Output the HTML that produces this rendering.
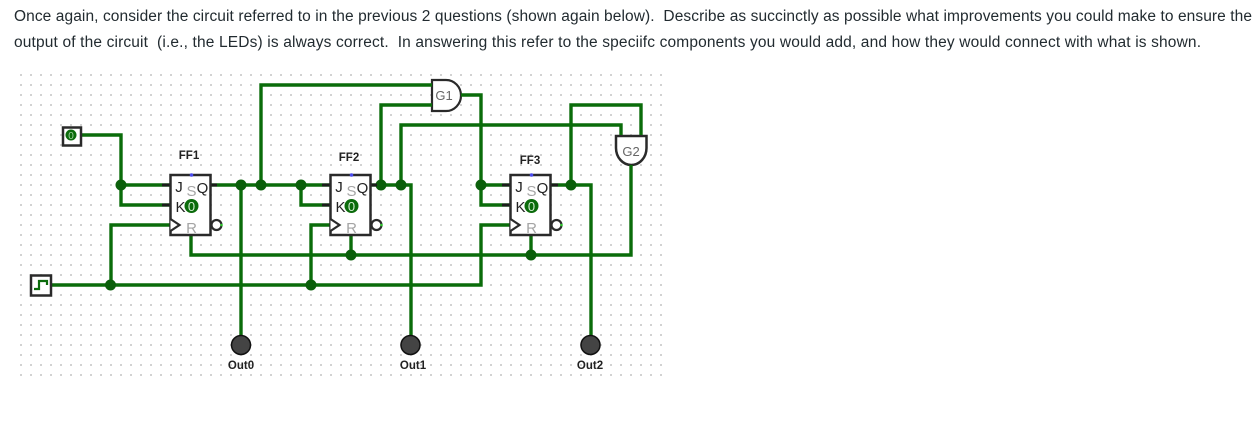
<!DOCTYPE html>
<html><head><meta charset="utf-8"><style>
html,body{margin:0;padding:0;background:#fff;width:1253px;height:421px;overflow:hidden}
svg{display:block}
.q{font:15.500px "Liberation Sans",sans-serif;fill:#222b30;white-space:pre}
.l{font:bold 11.500px "Liberation Sans",sans-serif;fill:#222;text-anchor:middle}
.g{font:13px "Liberation Sans",sans-serif;fill:#666;text-anchor:middle}
.p{font:15px "Liberation Sans",sans-serif;fill:#222;text-anchor:middle}
.r{font:15px "Liberation Sans",sans-serif;fill:#a5a5a5;text-anchor:middle}
.w{fill:none;stroke:#0a6c0a;stroke-width:3.400;stroke-linejoin:miter}
.b{fill:#fff;stroke:#2a2a2a;stroke-width:2.500}
</style></head><body>
<svg width="1253" height="421" viewBox="0 0 1253 421" xmlns="http://www.w3.org/2000/svg">
<defs>
<pattern id="dots" x="20" y="74" width="10" height="10" patternUnits="userSpaceOnUse"><rect x="0" y="0" width="2" height="2" fill="#d2d2d2"/></pattern>
<g id="ff">
<rect class="b" x="0" y="0" width="40" height="60"/>
<text class="r" x="21" y="21">S</text><text class="r" x="21" y="58">R</text>
<path d="M0 44L9 50L0 56" fill="#fff" stroke="#2a2a2a" stroke-width="2.200"/>
<circle cx="46" cy="50" r="5" fill="#fff" stroke="#2a2a2a" stroke-width="2.200"/>
<circle cx="51" cy="50" r="1.300" fill="#2cc52c"/>
<circle cx="21" cy="0" r="1.800" fill="#4a4aee"/>
<circle cx="21" cy="31" r="7" fill="#0b6b0b"/>
<text x="21" y="36" style="font:13px 'Liberation Sans',sans-serif;fill:#cfeccf;text-anchor:middle">0</text>
<text class="p" x="8.500" y="17">J</text><text class="p" x="10" y="37">K</text>
<text class="p" x="32" y="18">Q</text>
</g>
</defs>
<text class="q" x="14" y="21" textLength="1238" lengthAdjust="spacing">Once again, consider the circuit referred to in the previous 2 questions (shown again below).  Describe as succinctly as possible what improvements you could make to ensure the</text>
<text class="q" x="14" y="47" textLength="1187" lengthAdjust="spacing">output of the circuit  (i.e., the LEDs) is always correct.  In answering this refer to the speciifc components you would add, and how they would connect with what is shown.</text>
<rect x="20" y="70" width="644" height="308" fill="url(#dots)"/>

<!-- gates under wires -->
<path d="M432 80H446A15 15.500 0 0 1 446 111H432Z" fill="#fff" stroke="#2a2a2a" stroke-width="2.200"/>
<text class="g" x="444" y="100">G1</text>
<path d="M616 136H646.500V148A15.250 17 0 0 1 616 148Z" fill="#fff" stroke="#2a2a2a" stroke-width="2.500"/>
<text class="g" x="631" y="156">G2</text>

<!-- wires -->
<g class="w">
<path d="M81 135H121V205H171M121 185H171"/>
<path d="M51 285H481V225H511M111 285V225H171M311 285V225H331"/>
<path d="M211 185H331M241 185V345M301 185V205H331M261 185V85H432"/>
<path d="M371 185H411V345M381 185V105H432M401 185V125H621V135"/>
<path d="M461 95H481V205H511M481 185H511"/>
<path d="M551 185H591V345M571 185V105H641V135"/>
<path d="M191 235V255H631V165M351 235V255M531 235V255"/>
</g>
<g fill="#0b5f0b">
<circle cx="121" cy="185" r="5.500"/><circle cx="241" cy="185" r="5.500"/><circle cx="261" cy="185" r="5.500"/><circle cx="301" cy="185" r="5.500"/>
<circle cx="381" cy="185" r="5.500"/><circle cx="401" cy="185" r="5.500"/><circle cx="481" cy="185" r="5.500"/><circle cx="571" cy="185" r="5.500"/>
<circle cx="110.500" cy="285" r="5.500"/><circle cx="311" cy="285" r="5.500"/><circle cx="351" cy="255" r="5.500"/><circle cx="531" cy="255" r="5.500"/>
</g>
<!-- pin stubs -->
<path d="M162 185h9M162 205h9M322 185h9M322 205h9M502 185h9M502 205h9M371 185h6M551 185h7M211 185h6" stroke="#1c1c1c" stroke-width="3"/>

<!-- flip flops -->
<use href="#ff" x="170.500" y="175"/>
<use href="#ff" x="330.500" y="175"/>
<use href="#ff" x="510.500" y="175"/>
<text class="l" x="189" y="159">FF1</text>
<text class="l" x="349" y="161">FF2</text>
<text class="l" x="530" y="164">FF3</text>

<!-- input -->
<rect x="63" y="127.500" width="18" height="18" fill="#fff" stroke="#2a2a2a" stroke-width="2.500"/>
<circle cx="71" cy="135" r="5.500" fill="#0b6b0b"/>
<text x="71" y="139" style="font:10px 'Liberation Sans',sans-serif;fill:#9fd29f;text-anchor:middle">0</text>
<!-- clock -->
<rect x="31" y="275.500" width="20" height="20" fill="#fff" stroke="#2a2a2a" stroke-width="2.500"/>
<path d="M34 289H39V281H47V285" fill="none" stroke="#0b6b0b" stroke-width="2.200"/>

<!-- LEDs -->
<g fill="#444" stroke="#111" stroke-width="1.500">
<circle cx="241" cy="345" r="9.500"/><circle cx="410.500" cy="345" r="9.500"/><circle cx="590.500" cy="345" r="9.500"/>
</g>
<text class="l" x="241" y="369">Out0</text>
<text class="l" x="413" y="369">Out1</text>
<text class="l" x="590" y="369">Out2</text>
</svg>
</body></html>
